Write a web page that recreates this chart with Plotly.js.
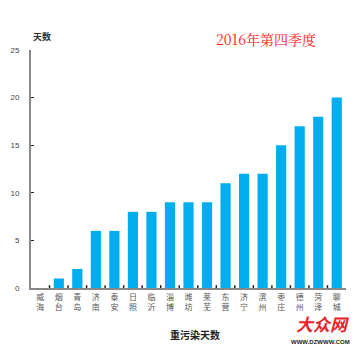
<!DOCTYPE html>
<html><head><meta charset="utf-8">
<script src="https://cdn.plot.ly/plotly-3.0.1.min.js"></script>
<style>body{margin:0;background:#fff}#c{width:360px;height:351px}</style>
</head><body><div id="c"></div>
<script>
const cities = ["威海","烟台","青岛","济南","泰安","日照","临沂","淄博","潍坊","莱芜","东营","济宁","滨州","枣庄","德州","菏泽","聊城"];
const days = [0,1,2,6,6,8,8,9,9,9,11,12,12,15,17,18,20];
const yTicks = [0,5,10,15,20,25];
const cjk = '"Noto Sans CJK SC", sans-serif';
Plotly.newPlot('c', [{
  type:'bar', x: cities.map((c,i)=>i), y: days,
  marker:{color:'#00AEEF'}, width:0.55, hoverinfo:'none'
}], {
  width:360, height:351,
  margin:{l:31, r:14, t:50, b:63},
  paper_bgcolor:'#fff', plot_bgcolor:'#fff',
  showlegend:false,
  xaxis:{
    range:[-0.5,16.5], tickmode:'array', tickvals:cities.map((c,i)=>i),
    ticktext:cities.map(c=>c[0]+'<br>'+c[1]),
    showline:true, linecolor:'#888', linewidth:2,
    ticks:'', showgrid:false, zeroline:false,
    tickfont:{family:cjk, size:8, color:'#555'},
    fixedrange:true
  },
  yaxis:{
    range:[0,25], tickmode:'array', tickvals:yTicks, ticktext:yTicks.map(String),
    showline:true, linecolor:'#888', linewidth:2,
    ticks:'inside', ticklen:3, tickcolor:'#222',
    showgrid:false, zeroline:false,
    tickfont:{family:'"Liberation Sans", sans-serif', size:8, color:'#444'},
    ticklabelstandoff:8
  },
  shapes: cities.slice(1).map((c,i)=>({type:'line', xref:'x', yref:'paper',
    x0:i+0.5, x1:i+0.5, y0:0, y1:0.012, line:{color:'#222', width:1.5}})),
  annotations:[
    {text:'2016年第四季度', xref:'paper', yref:'paper', x:0.745, y:1.045, xanchor:'center', yanchor:'middle', showarrow:false,
     font:{family:'"Noto Serif CJK SC", "Noto Sans CJK SC", serif', size:14, color:'#ff2020'}},
    {text:'<b>天数</b>', xref:'paper', yref:'paper', x:0.0, y:1.055, xanchor:'left', yanchor:'middle', showarrow:false,
     font:{family:cjk, size:9, color:'#333'}},
    {text:'<b>重污染天数</b>', xref:'paper', yref:'paper', x:0.52, y:-0.195, xanchor:'center', yanchor:'middle', showarrow:false,
     font:{family:cjk, size:10, color:'#222'}},
    {text:'<b><i>大众网</i></b>', xref:'paper', yref:'paper', x:1.02, y:-0.15, xanchor:'right', yanchor:'middle', showarrow:false,
     font:{family:cjk, size:17, color:'#e8232a'}},
    {text:'<b>WWW.DZWWW.COM</b>', xref:'paper', yref:'paper', x:1.02, y:-0.225, xanchor:'right', yanchor:'middle', showarrow:false,
     font:{family:'"Liberation Sans", sans-serif', size:6, color:'#222'}}
  ]
}, {staticPlot:true});
</script></body></html>
